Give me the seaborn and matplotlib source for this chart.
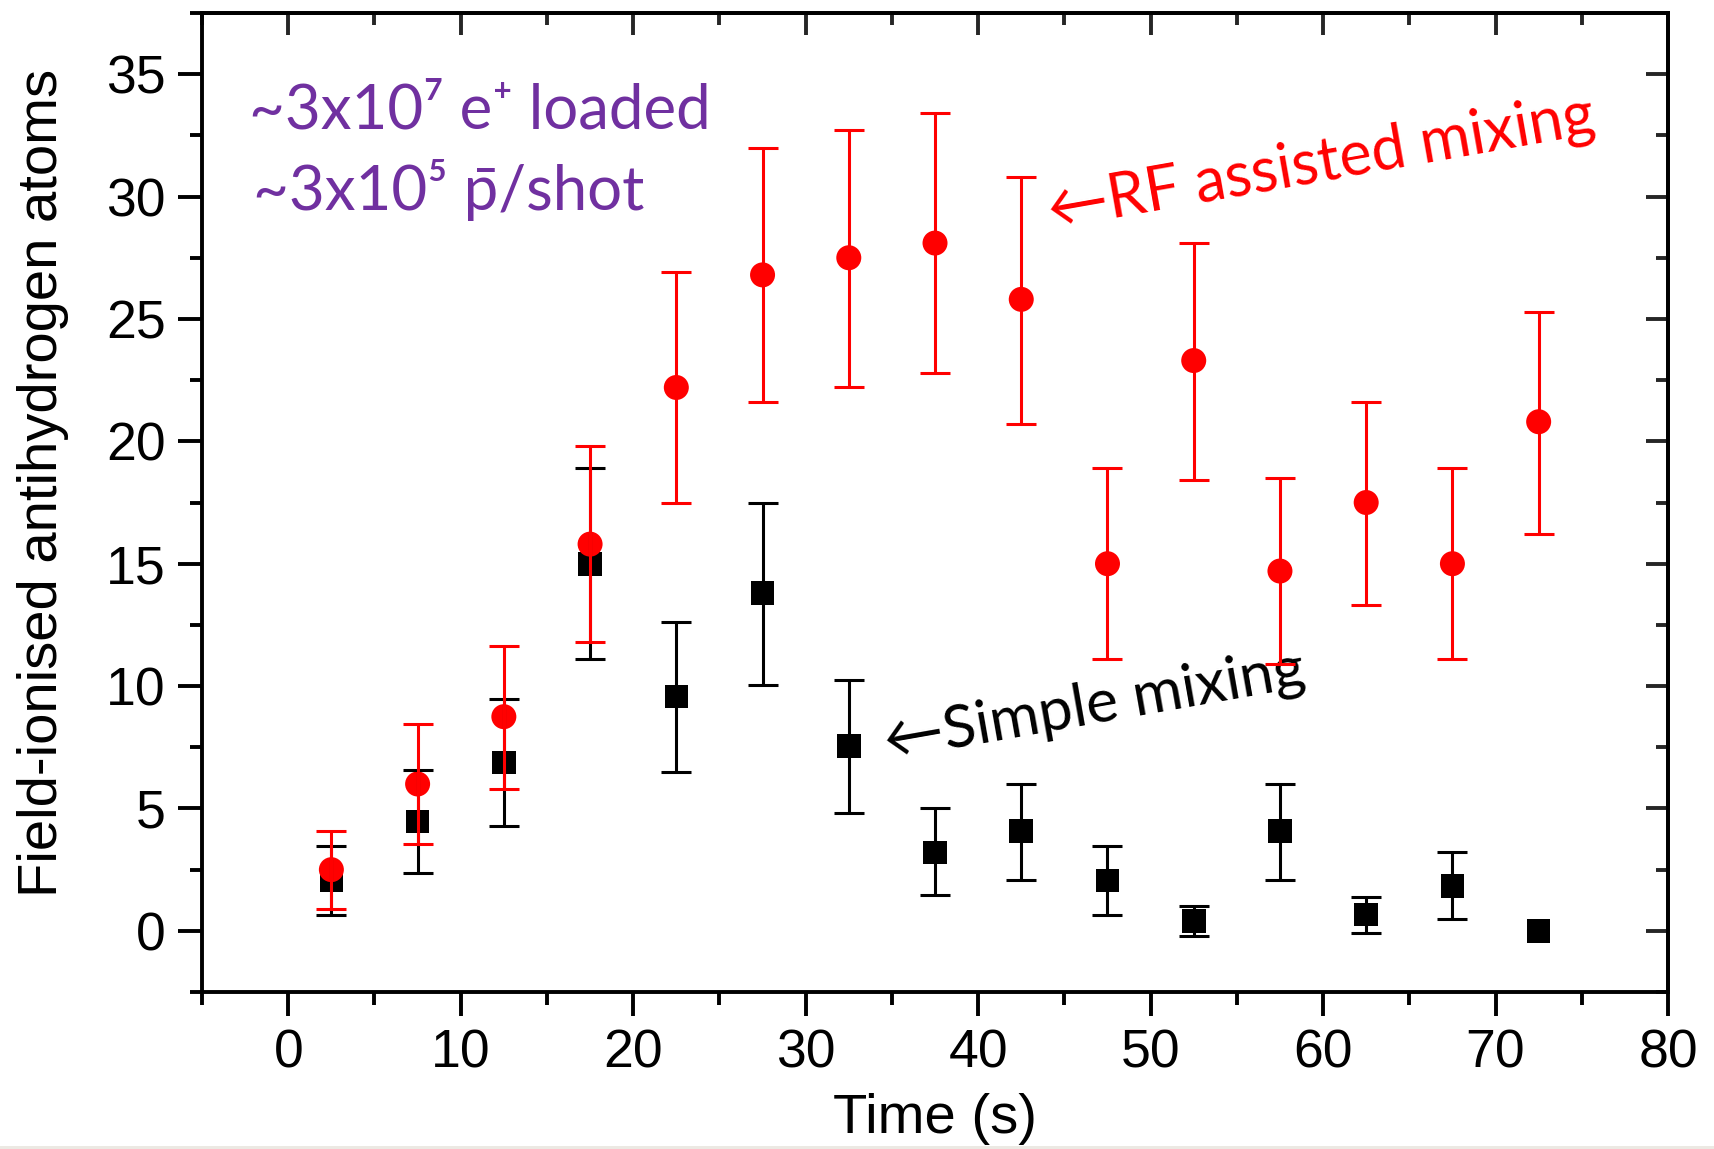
import numpy as np
import pandas as pd
import matplotlib
matplotlib.use("Agg")
import matplotlib.pyplot as plt
import seaborn as sns
from matplotlib.ticker import MultipleLocator
from matplotlib.patches import Rectangle

# ---------------- data ----------------
time_s = [2.5, 7.5, 12.5, 17.5, 22.5, 27.5, 32.5, 37.5, 42.5, 47.5, 52.5, 57.5, 62.5, 67.5, 72.5]

rf_atoms = [2.5, 6.0, 8.75, 15.8, 22.2, 26.8, 27.5, 28.1, 25.8, 15.0, 23.3, 14.7, 17.5, 15.0, 20.8]
rf_err_low = [1.6, 2.45, 2.95, 4.0, 4.7, 5.2, 5.3, 5.3, 5.1, 3.9, 4.9, 3.8, 4.2, 3.9, 4.6]
rf_err_high = [1.6, 2.45, 2.9, 4.0, 4.7, 5.2, 5.2, 5.3, 5.0, 3.9, 4.8, 3.8, 4.1, 3.9, 4.5]

simple_atoms = [2.06, 4.47, 6.88, 15.0, 9.57, 13.8, 7.55, 3.2, 4.07, 2.06, 0.4, 4.07, 0.67, 1.83, 0.0]
simple_err_low = [1.4, 2.1, 2.6, 3.9, 3.1, 3.75, 2.75, 1.75, 2.0, 1.4, 0.6, 2.0, 0.75, 1.35, np.nan]
simple_err_high = [1.4, 2.1, 2.6, 3.9, 3.05, 3.7, 2.7, 1.8, 1.95, 1.4, 0.63, 1.95, 0.7, 1.4, np.nan]

x_ticks = [0, 10, 20, 30, 40, 50, 60, 70, 80]
y_ticks = [0, 5, 10, 15, 20, 25, 30, 35]
x_limits = (-5, 80)
y_limits = (-2.5, 37.5)

x_label = "Time (s)"
y_label = "Field-ionised antihydrogen atoms"
note_line1 = "~3x10\u2077 e\u207a loaded"
note_line2 = "~3x10\u2075 p\u0304/shot"
rf_label = "\u2190RF assisted mixing"
simple_label = "\u2190Simple mixing"

# ---------------- style ----------------
sns.set_theme(style="ticks")
plt.rcParams["font.family"] = ["Liberation Sans", "DejaVu Sans"]
plt.rcParams["axes.linewidth"] = 2.8

fig = plt.figure(figsize=(17.15, 11.49), dpi=100)
ax = fig.add_axes([0.1178, 0.1366, 0.9726 - 0.1178, 0.9887 - 0.1366])

# thin light strip along the bottom edge of the picture
fig.add_artist(Rectangle((0, 0), 1, 3 / 1149, transform=fig.transFigure,
                         facecolor="#ece9e3", edgecolor="none"))

df_rf = pd.DataFrame({"t": time_s, "n": rf_atoms})
df_simple = pd.DataFrame({"t": time_s, "n": simple_atoms})

sns.scatterplot(data=df_simple, x="t", y="n", marker="s", s=17 ** 2, color="black",
                edgecolor="none", linewidth=0, ax=ax, zorder=3)
sns.scatterplot(data=df_rf, x="t", y="n", marker="o", s=18 ** 2, color="#ff0000",
                edgecolor="none", linewidth=0, ax=ax, zorder=3)

ax.errorbar(time_s, simple_atoms, yerr=[simple_err_low, simple_err_high], fmt="none",
            ecolor="black", elinewidth=2.2, capsize=11, capthick=2.2, zorder=4)
ax.errorbar(time_s, rf_atoms, yerr=[rf_err_low, rf_err_high], fmt="none",
            ecolor="#ff0000", elinewidth=2.2, capsize=11, capthick=2.2, zorder=4)

ax.set_xlim(*x_limits)
ax.set_ylim(*y_limits)
ax.set_xticks(x_ticks)
ax.set_yticks(y_ticks)
ax.xaxis.set_minor_locator(MultipleLocator(5))
ax.yaxis.set_minor_locator(MultipleLocator(2.5))

ax.tick_params(axis="both", which="major", direction="out", length=17, width=2.8,
               labelsize=38.5, color="black", labelcolor="black", pad=9)
ax.tick_params(axis="both", which="minor", direction="out", length=9, width=2.8, color="black")

for s in ax.spines.values():
    s.set_visible(True)
    s.set_linewidth(2.8)
    s.set_color("black")

secx = ax.secondary_xaxis("top")
secx.set_xticks(x_ticks)
secx.xaxis.set_minor_locator(MultipleLocator(5))
secx.tick_params(axis="x", which="major", direction="in", length=16, width=2.8, labeltop=False)
secx.tick_params(axis="x", which="minor", direction="in", length=8.5, width=2.8)
secx.spines["top"].set_linewidth(2.8)

secy = ax.secondary_yaxis("right")
secy.set_yticks(y_ticks)
secy.yaxis.set_minor_locator(MultipleLocator(2.5))
secy.tick_params(axis="y", which="major", direction="in", length=16, width=2.8, labelright=False)
secy.tick_params(axis="y", which="minor", direction="in", length=8.5, width=2.8)
secy.spines["right"].set_linewidth(2.8)

ax.set_xlabel(x_label, fontsize=40.5, color="black")
ax.set_ylabel(y_label, fontsize=40.5, color="black")
ax.xaxis.set_label_coords(0.5, -0.103)
ax.yaxis.set_label_coords(-0.0905, 0.52)

hand = ["Lato", "DejaVu Sans"]
purple = "#7030a0"
ax.text(0.032, 0.8825, note_line1, transform=ax.transAxes, fontsize=44.5, color=purple,
        family=hand, ha="left", va="baseline")
ax.text(0.035, 0.799, note_line2, transform=ax.transAxes, fontsize=44.5, color=purple,
        family=hand, ha="left", va="baseline")

ax.text(44.2, 28.7, rf_label, fontsize=44, color="#ff0000", family=hand,
        rotation=10, rotation_mode="anchor", ha="left", va="baseline")
ax.text(34.75, 7.0, simple_label, fontsize=43.5, color="black", family=hand,
        rotation=10, rotation_mode="anchor", ha="left", va="baseline")

fig.savefig("out.png", dpi=100, facecolor="white")
